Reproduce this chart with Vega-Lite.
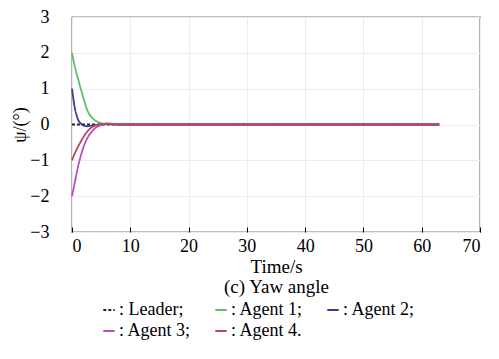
{
  "$schema": "https://vega.github.io/schema/vega-lite/v6.json",
  "width": 408,
  "height": 215,
  "autosize": {"type": "none"},
  "padding": {"left": 72, "top": 17, "right": 19, "bottom": 127},
  "background": "white",
  "config": {
    "font": "Liberation Serif",
    "view": {"stroke": "black", "strokeWidth": 1.2},
    "axis": {"titleFontWeight": "normal"}
  },
  "data": {
    "values": [
      {"series": "Leader", "t": 0, "psi": 0},
      {"series": "Leader", "t": 63, "psi": 0},
      {"series": "Agent 1", "t": 0, "psi": 2.0},
      {"series": "Agent 1", "t": 0.5, "psi": 1.6},
      {"series": "Agent 1", "t": 1, "psi": 1.3},
      {"series": "Agent 1", "t": 1.5, "psi": 1.0},
      {"series": "Agent 1", "t": 2, "psi": 0.72},
      {"series": "Agent 1", "t": 2.5, "psi": 0.45},
      {"series": "Agent 1", "t": 3, "psi": 0.28},
      {"series": "Agent 1", "t": 3.5, "psi": 0.18},
      {"series": "Agent 1", "t": 4, "psi": 0.11},
      {"series": "Agent 1", "t": 5, "psi": 0.04},
      {"series": "Agent 1", "t": 6, "psi": 0.01},
      {"series": "Agent 1", "t": 7, "psi": 0.0},
      {"series": "Agent 1", "t": 8, "psi": 0.0},
      {"series": "Agent 1", "t": 63, "psi": 0.0},
      {"series": "Agent 2", "t": 0, "psi": 1.0},
      {"series": "Agent 2", "t": 0.25, "psi": 0.7},
      {"series": "Agent 2", "t": 0.5, "psi": 0.45},
      {"series": "Agent 2", "t": 0.75, "psi": 0.28},
      {"series": "Agent 2", "t": 1, "psi": 0.15},
      {"series": "Agent 2", "t": 1.5, "psi": 0.03},
      {"series": "Agent 2", "t": 2, "psi": -0.03},
      {"series": "Agent 2", "t": 2.5, "psi": -0.05},
      {"series": "Agent 2", "t": 3, "psi": -0.04},
      {"series": "Agent 2", "t": 4, "psi": -0.02},
      {"series": "Agent 2", "t": 5, "psi": 0.0},
      {"series": "Agent 2", "t": 6, "psi": 0.01},
      {"series": "Agent 2", "t": 8, "psi": 0.0},
      {"series": "Agent 2", "t": 63, "psi": 0.0},
      {"series": "Agent 3", "t": 0, "psi": -2.0},
      {"series": "Agent 3", "t": 0.5, "psi": -1.6},
      {"series": "Agent 3", "t": 1, "psi": -1.2},
      {"series": "Agent 3", "t": 1.5, "psi": -0.88},
      {"series": "Agent 3", "t": 2, "psi": -0.62},
      {"series": "Agent 3", "t": 2.5, "psi": -0.42},
      {"series": "Agent 3", "t": 3, "psi": -0.28},
      {"series": "Agent 3", "t": 3.5, "psi": -0.18},
      {"series": "Agent 3", "t": 4, "psi": -0.1},
      {"series": "Agent 3", "t": 4.5, "psi": -0.05},
      {"series": "Agent 3", "t": 5, "psi": -0.01},
      {"series": "Agent 3", "t": 6, "psi": 0.03},
      {"series": "Agent 3", "t": 7, "psi": 0.02},
      {"series": "Agent 3", "t": 8, "psi": 0.01},
      {"series": "Agent 3", "t": 9, "psi": 0.0},
      {"series": "Agent 3", "t": 63, "psi": 0.0},
      {"series": "Agent 4", "t": 0, "psi": -1.0},
      {"series": "Agent 4", "t": 0.5, "psi": -0.8},
      {"series": "Agent 4", "t": 1, "psi": -0.63},
      {"series": "Agent 4", "t": 1.5, "psi": -0.48},
      {"series": "Agent 4", "t": 2, "psi": -0.34},
      {"series": "Agent 4", "t": 2.5, "psi": -0.22},
      {"series": "Agent 4", "t": 3, "psi": -0.13},
      {"series": "Agent 4", "t": 3.5, "psi": -0.07},
      {"series": "Agent 4", "t": 4, "psi": -0.03},
      {"series": "Agent 4", "t": 5, "psi": 0.01},
      {"series": "Agent 4", "t": 6, "psi": 0.02},
      {"series": "Agent 4", "t": 7, "psi": 0.01},
      {"series": "Agent 4", "t": 8, "psi": 0.0},
      {"series": "Agent 4", "t": 63, "psi": 0.0}
    ]
  },
  "mark": {"type": "line", "interpolate": "monotone", "strokeWidth": 1.8},
  "encoding": {
    "x": {
      "field": "t",
      "type": "quantitative",
      "scale": {"domain": [0, 70], "nice": false},
      "axis": {
        "values": [0, 10, 20, 30, 40, 50, 60, 70],
        "labelFont": "Liberation Serif",
        "titleFont": "Liberation Serif",
        "labelFontSize": 18,
        "titleFontSize": 19,
        "titleFontWeight": "normal",
        "labelColor": "black",
        "titleColor": "black",
        "domain": false,
        "grid": true,
        "gridColor": "#ececec",
        "tickColor": "black",
        "tickSize": -5,
        "labelPadding": 10,
        "title": ["Time/s", "(c) Yaw angle"],
        "titleLineHeight": 20,
        "titlePadding": 2
      }
    },
    "y": {
      "field": "psi",
      "type": "quantitative",
      "scale": {"domain": [-3, 3], "nice": false},
      "axis": {
        "values": [-3, -2, -1, 0, 1, 2, 3],
        "labelFont": "Liberation Serif",
        "titleFont": "Liberation Serif",
        "labelFontSize": 18,
        "titleFontSize": 18,
        "titleFontWeight": "normal",
        "labelColor": "black",
        "titleColor": "black",
        "domain": false,
        "grid": true,
        "gridColor": "#ececec",
        "ticks": false,
        "labelPadding": 23,
        "title": "ψ/(°)",
        "titlePadding": 0
      }
    },
    "color": {
      "field": "series",
      "type": "nominal",
      "scale": {
        "domain": ["Leader", "Agent 1", "Agent 2", "Agent 3", "Agent 4"],
        "range": ["#222222", "#5fbf6c", "#3b3b96", "#c04cc4", "#b84a56"]
      },
      "legend": {
        "title": null,
        "orient": "none",
        "legendX": 28,
        "legendY": 284,
        "direction": "horizontal",
        "columns": 3,
        "columnPadding": 20,
        "rowPadding": 3,
        "symbolType": "stroke",
        "symbolSize": 130,
        "symbolStrokeWidth": 2,
        "labelOffset": 1,
        "labelFont": "Liberation Serif",
        "labelFontSize": 18,
        "labelColor": "black",
        "labelExpr": "': ' + datum.label + (datum.label == 'Agent 4' ? '.' : ';')"
      }
    },
    "strokeDash": {
      "field": "series",
      "type": "nominal",
      "scale": {
        "domain": ["Leader", "Agent 1", "Agent 2", "Agent 3", "Agent 4"],
        "range": [[3, 2], [1, 0], [1, 0], [1, 0], [1, 0]]
      },
      "legend": null
    },
    "order": {"field": "series", "type": "nominal"}
  }
}
